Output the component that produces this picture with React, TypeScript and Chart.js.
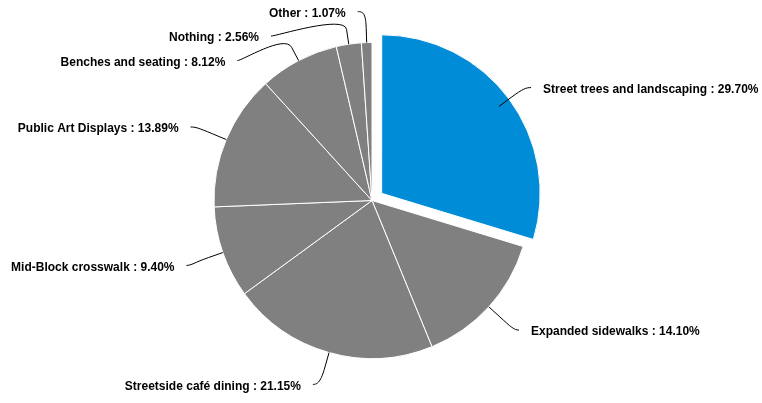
import React, { useEffect, useRef } from "react";
import { Chart, registerables } from "chart.js";

Chart.register(...registerables);

const categories: string[] = [
  "Street trees and landscaping",
  "Expanded sidewalks",
  "Streetside café dining",
  "Mid-Block crosswalk",
  "Public Art Displays",
  "Benches and seating",
  "Nothing",
  "Other",
];
const shares: number[] = [29.7, 14.1, 21.15, 9.4, 13.89, 8.12, 2.56, 1.07];
const sliceColors: string[] = [
  "#008cd6",
  "#808080",
  "#808080",
  "#808080",
  "#808080",
  "#808080",
  "#808080",
  "#808080",
];
const slicedOut: boolean[] = [true, false, false, false, false, false, false, false];

const FONT = 'bold 12px "Liberation Sans", Arial, Helvetica, sans-serif';

const outerLabels = {
  id: "outerLabels",
  afterDatasetsDraw(chart: any) {
    const ctx = chart.ctx as CanvasRenderingContext2D;
    const meta = chart.getDatasetMeta(0);
    const distance = 30;
    const spacing = 24.5;
    const items = meta.data.map((arc: any, i: number) => {
      const p = arc.getProps(["x", "y", "startAngle", "endAngle", "outerRadius"], true);
      const mid = (p.startAngle + p.endAngle) / 2;
      const cos = Math.cos(mid);
      const sin = Math.sin(mid);
      const R = p.outerRadius + distance;
      return {
        i,
        cx: p.x,
        cy: p.y,
        r: p.outerRadius,
        cos,
        sin,
        R,
        right: cos >= 0,
        y: p.y + sin * R,
      };
    });
    const top = 12;
    const bottom = chart.height - 14;
    [true, false].forEach((side) => {
      const list = items.filter((it: any) => it.right === side).sort((a: any, b: any) => a.y - b.y);
      for (let k = 0; k < list.length; k++) {
        const minY = k === 0 ? top : list[k - 1].y + spacing;
        if (list[k].y < minY) list[k].y = minY;
      }
      for (let k = list.length - 1; k >= 0; k--) {
        const maxY = k === list.length - 1 ? bottom : list[k + 1].y - spacing;
        if (list[k].y > maxY) list[k].y = maxY;
      }
    });

    ctx.save();
    ctx.font = FONT;
    ctx.textBaseline = "middle";
    ctx.strokeStyle = "#000000";
    ctx.lineWidth = 1;
    items.forEach((it: any) => {
      const dir = it.right ? 1 : -1;
      const dy = Math.max(-1, Math.min(1, (it.y - it.cy) / it.R));
      const ax = it.cx + dir * Math.sqrt(1 - dy * dy) * it.R;
      const ly = it.y + (it.sin > 0 ? 4 : 0) + 1;
      const sx = ax + dir * 8;
      const sy = ly - 2;
      const tx = it.cx + it.cos * it.r;
      const ty = it.cy + it.sin * it.r;
      const bx = it.cx + it.cos * (it.r + 15);
      const by = it.cy + it.sin * (it.r + 15);
      ctx.beginPath();
      ctx.moveTo(sx, sy);
      ctx.bezierCurveTo(sx - dir * 5, sy, 2 * bx - tx, 2 * by - ty, bx, by);
      ctx.lineTo(tx, ty);
      ctx.stroke();

      ctx.fillStyle = "#000000";
      ctx.textAlign = it.right ? "left" : "right";
      const text = `${categories[it.i]} : ${shares[it.i].toFixed(2)}%`;
      ctx.fillText(text, ax + dir * 20, ly);
    });
    ctx.restore();
  },
};

export default function App() {
  const canvasRef = useRef<HTMLCanvasElement | null>(null);

  useEffect(() => {
    document.body.style.margin = "0";
    const canvas = canvasRef.current;
    if (!canvas) return;
    const chart = new Chart(canvas, {
      type: "pie",
      data: {
        labels: categories,
        datasets: [
          {
            data: shares,
            backgroundColor: sliceColors,
            borderColor: "#ffffff",
            borderWidth: 1,
            offset: slicedOut.map((s) => (s ? 48 : 0)),
            hoverOffset: 0,
            radius: 158,
          } as any,
        ],
      },
      options: {
        responsive: false,
        animation: false,
        events: [],
        layout: { padding: { left: 0, right: 18, top: 0, bottom: 2 } },
        plugins: {
          legend: { display: false },
          tooltip: { enabled: false },
        },
      },
      plugins: [outerLabels],
    });
    return () => chart.destroy();
  }, []);

  return (
    <div style={{ position: "absolute", left: 0, top: 0, width: 762, height: 403, background: "#ffffff" }}>
      <canvas ref={canvasRef} width={762} height={403} style={{ display: "block" }} />
    </div>
  );
}
